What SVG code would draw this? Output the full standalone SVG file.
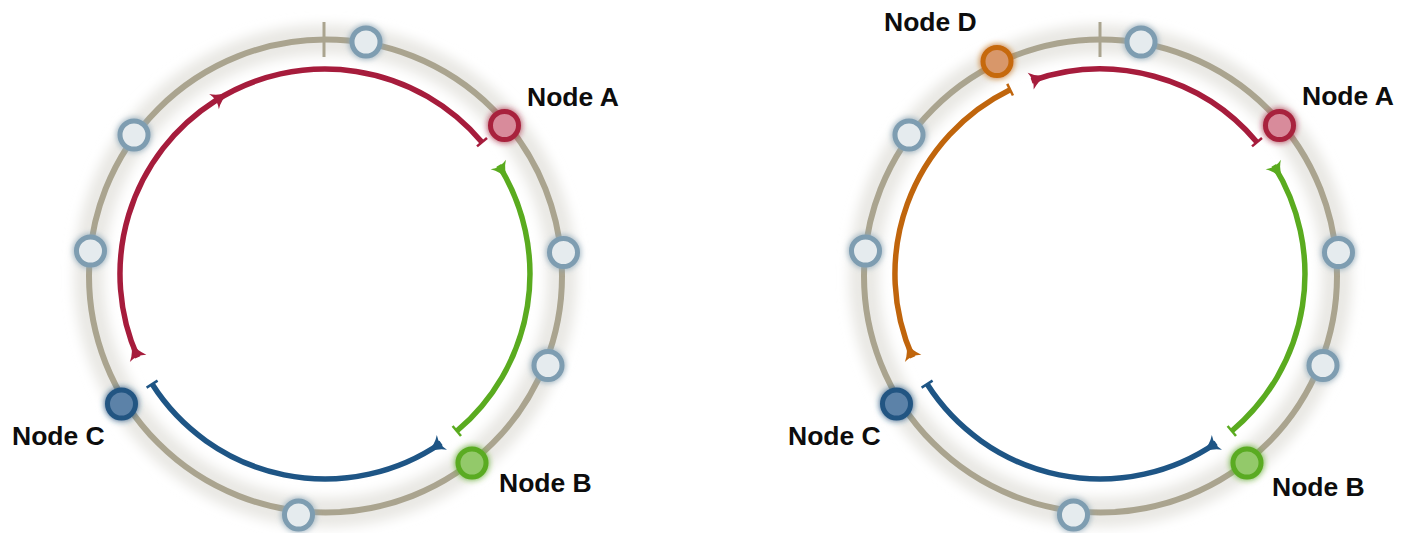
<svg xmlns="http://www.w3.org/2000/svg" width="1406" height="533" viewBox="0 0 1406 533">
<style>
.halo{fill:none;stroke:#e9e8e4;stroke-width:30;filter:url(#soft)}
.ring{fill:none;stroke:#aaa48f;stroke-width:6}
.tick{stroke:#aaa48f;stroke-width:3}
.arc{fill:none;stroke-width:5.5}
.empty{fill:#e5ebee;stroke:#7e9db1;stroke-width:5;filter:url(#glow)}
.na{fill:#d88b9b;stroke:#a8213e;stroke-width:5;filter:url(#glow)}
.nb{fill:#93c96b;stroke:#5aab22;stroke-width:5;filter:url(#glow)}
.nc{fill:#5b82a8;stroke:#245582;stroke-width:5;filter:url(#glow)}
.nd{fill:#d8976a;stroke:#c6690e;stroke-width:5;filter:url(#glow)}
.lbl{font-family:"Liberation Sans",Arial,sans-serif;font-weight:bold;font-size:26.5px;fill:#0d0d0d}
</style>
<defs>
<filter id="soft" x="-20%" y="-20%" width="140%" height="140%"><feGaussianBlur stdDeviation="6"/></filter>
<filter id="glow" x="-60%" y="-60%" width="220%" height="220%">
<feGaussianBlur in="SourceGraphic" stdDeviation="3" result="b"/>
<feMerge><feMergeNode in="b"/><feMergeNode in="SourceGraphic"/></feMerge>
</filter>
<marker id="ar-red" markerUnits="userSpaceOnUse" orient="auto" markerWidth="40" markerHeight="40" refX="0" refY="0" viewBox="-20 -20 40 40" overflow="visible"><path d="M-1 -9Q6 -2 17 0Q6 2 -1 9Q3 0 -1 -9Z" fill="#a61c3c"/></marker>
<marker id="ar-green" markerUnits="userSpaceOnUse" orient="auto" markerWidth="40" markerHeight="40" refX="0" refY="0" viewBox="-20 -20 40 40" overflow="visible"><path d="M-1 -9Q6 -2 17 0Q6 2 -1 9Q3 0 -1 -9Z" fill="#5aab1f"/></marker>
<marker id="ar-blue" markerUnits="userSpaceOnUse" orient="auto" markerWidth="40" markerHeight="40" refX="0" refY="0" viewBox="-20 -20 40 40" overflow="visible"><path d="M-1 -9Q6 -2 17 0Q6 2 -1 9Q3 0 -1 -9Z" fill="#1e5585"/></marker>
<marker id="ar-orange" markerUnits="userSpaceOnUse" orient="auto" markerWidth="40" markerHeight="40" refX="0" refY="0" viewBox="-20 -20 40 40" overflow="visible"><path d="M-1 -9Q6 -2 17 0Q6 2 -1 9Q3 0 -1 -9Z" fill="#c0650c"/></marker>
<marker id="bar-red" markerUnits="userSpaceOnUse" orient="auto" markerWidth="20" markerHeight="20" refX="0" refY="0" viewBox="-10 -10 20 20" overflow="visible"><path d="M0 -6.5L0 6.5" stroke="#a61c3c" stroke-width="2.5"/></marker>
<marker id="bar-green" markerUnits="userSpaceOnUse" orient="auto" markerWidth="20" markerHeight="20" refX="0" refY="0" viewBox="-10 -10 20 20" overflow="visible"><path d="M0 -6.5L0 6.5" stroke="#5aab1f" stroke-width="2.5"/></marker>
<marker id="bar-blue" markerUnits="userSpaceOnUse" orient="auto" markerWidth="20" markerHeight="20" refX="0" refY="0" viewBox="-10 -10 20 20" overflow="visible"><path d="M0 -6.5L0 6.5" stroke="#1e5585" stroke-width="2.5"/></marker>
<marker id="bar-orange" markerUnits="userSpaceOnUse" orient="auto" markerWidth="20" markerHeight="20" refX="0" refY="0" viewBox="-10 -10 20 20" overflow="visible"><path d="M0 -6.5L0 6.5" stroke="#c0650c" stroke-width="2.5"/></marker>
</defs>
<rect width="1406" height="533" fill="#ffffff"/>
<g id="rings">
<circle class="halo" cx="325.5" cy="276" r="236.5"/>
<circle class="halo" cx="1100.5" cy="276" r="236.5"/>
<circle class="ring" cx="325.5" cy="276" r="236.5"/>
<circle class="ring" cx="1100.5" cy="276" r="236.5"/>
<line class="tick" x1="324" y1="22" x2="324" y2="57"/>
<line class="tick" x1="1100" y1="22" x2="1100" y2="57"/>
</g>
<g id="connectors">
<path class="arc" stroke="#a61c3c" marker-start="url(#ar-red)" marker-mid="url(#ar-red)" marker-end="url(#bar-red)" d="M137.7 357.4A205 205 0 0 1 214.9 101.1A205 205 0 0 1 482 142.2"/>
<path class="arc" stroke="#5aab1f" marker-start="url(#ar-green)" marker-end="url(#bar-green)" d="M498.8 165.4A205 205 0 0 1 456.8 431"/>
<path class="arc" stroke="#1e5585" marker-start="url(#ar-blue)" marker-end="url(#bar-blue)" d="M441.1 442.9A205 205 0 0 1 152.1 384.1"/>
<path class="arc" stroke="#a61c3c" marker-start="url(#ar-red)" marker-end="url(#bar-red)" d="M1031.6 80.8A205 205 0 0 1 1257 142.2"/>
<path class="arc" stroke="#5aab1f" marker-start="url(#ar-green)" marker-end="url(#bar-green)" d="M1273.8 165.4A205 205 0 0 1 1231.8 431"/>
<path class="arc" stroke="#1e5585" marker-start="url(#ar-blue)" marker-end="url(#bar-blue)" d="M1216.1 442.9A205 205 0 0 1 927.1 384.1"/>
<path class="arc" stroke="#c0650c" marker-start="url(#ar-orange)" marker-end="url(#bar-orange)" d="M912.7 357.4A205 205 0 0 1 1010.1 89.7"/>
</g>
<g id="left-empty-nodes">
<circle class="empty" cx="366" cy="42" r="14"/>
<circle class="empty" cx="134" cy="135" r="14"/>
<circle class="empty" cx="90.5" cy="251" r="14"/>
<circle class="empty" cx="563.5" cy="252.5" r="14"/>
<circle class="empty" cx="548" cy="365.5" r="14"/>
<circle class="empty" cx="298.5" cy="515" r="14"/>
</g>
<g id="left-node-a"><circle class="na" cx="504.5" cy="125.5" r="14"/><text class="lbl" x="527" y="106">Node A</text></g>
<g id="left-node-b"><circle class="nb" cx="472" cy="463" r="14"/><text class="lbl" x="499" y="492">Node B</text></g>
<g id="left-node-c"><circle class="nc" cx="121.5" cy="404" r="14"/><text class="lbl" x="12" y="445">Node C</text></g>
<g id="right-empty-nodes">
<circle class="empty" cx="1141" cy="42" r="14"/>
<circle class="empty" cx="909" cy="135" r="14"/>
<circle class="empty" cx="865.5" cy="251" r="14"/>
<circle class="empty" cx="1338.5" cy="252.5" r="14"/>
<circle class="empty" cx="1323" cy="365.5" r="14"/>
<circle class="empty" cx="1073.5" cy="515" r="14"/>
</g>
<g id="right-node-a"><circle class="na" cx="1279.5" cy="125.5" r="14"/><text class="lbl" x="1302" y="105">Node A</text></g>
<g id="right-node-b"><circle class="nb" cx="1247" cy="463" r="14"/><text class="lbl" x="1272" y="496">Node B</text></g>
<g id="right-node-c"><circle class="nc" cx="896.5" cy="404" r="14"/><text class="lbl" x="788" y="445">Node C</text></g>
<g id="right-node-d"><circle class="nd" cx="997" cy="61.5" r="14"/><text class="lbl" x="884" y="31">Node D</text></g>
</svg>
